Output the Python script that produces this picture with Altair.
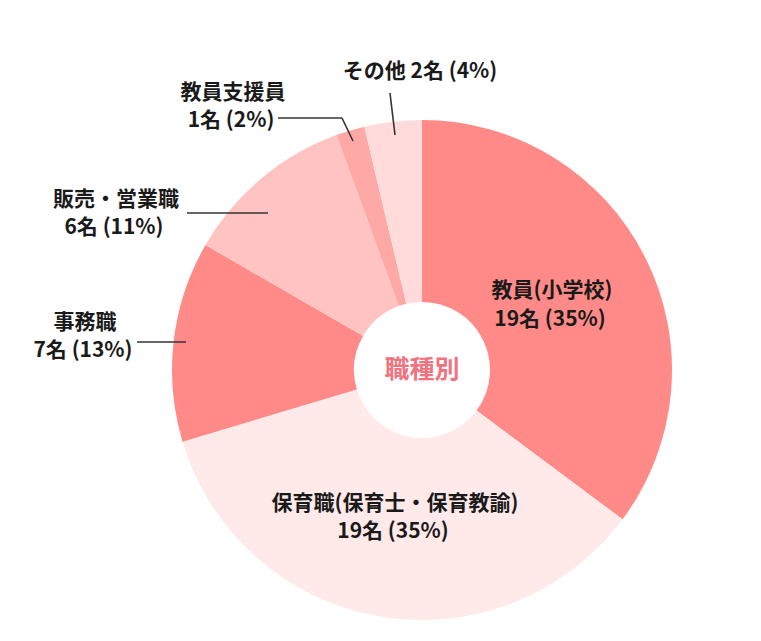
import altair as alt
import pandas as pd

categories = ["教員(小学校)", "保育職(保育士・保育教諭)", "事務職", "販売・営業職", "教員支援員", "その他"]
counts = [19, 19, 7, 6, 1, 2]
percents = [35, 35, 13, 11, 2, 4]
colors = ["#FF8A87", "#FFE9E9", "#FF8A87", "#FFC3C2", "#FFA9A7", "#FFDBDB"]

FONT = "Noto Sans CJK JP"
CX, CY = 414, 362

pie = pd.DataFrame({"cat": categories, "count": counts, "order": list(range(len(categories)))})

arcs = alt.Chart(pie).mark_arc(innerRadius=68, outerRadius=250).encode(
    theta=alt.Theta("count:Q", stack=True),
    order=alt.Order("order:Q"),
    color=alt.Color("cat:N", scale=alt.Scale(domain=categories, range=colors), legend=None),
    x=alt.value(CX), y=alt.value(CY),
)

# label text built from the data arrays
line2 = [f"{c}名 ({p}%)" for c, p in zip(counts, percents)]
lab_rows = []
pos1 = [(544, 283), (387, 496), (77, 315), (108, 192), (225, 85)]
pos2 = [(542, 312), (385, 524), (75, 343), (106, 220), (223, 113)]
for i in range(5):
    lab_rows.append({"t": categories[i], "x": pos1[i][0], "y": pos1[i][1]})
    lab_rows.append({"t": line2[i], "x": pos2[i][0], "y": pos2[i][1]})
lab_rows.append({"t": f"{categories[5]} {line2[5]}", "x": 412, "y": 64})
labels = pd.DataFrame(lab_rows)

text = alt.Chart(labels).mark_text(
    font=FONT, fontSize=21, fontWeight="bold", color="#1a1a1a", baseline="middle", align="center"
).encode(
    x=alt.X("x:Q", scale=None), y=alt.Y("y:Q", scale=None), text="t:N"
)

segs = pd.DataFrame({
    "x": [382, 270, 334, 179, 129],
    "y": [85, 110, 110, 205, 334],
    "x2": [387, 334, 345, 260, 178],
    "y2": [127, 110, 133, 205, 334],
})
lines = alt.Chart(segs).mark_rule(color="#333333", strokeWidth=1.6).encode(
    x=alt.X("x:Q", scale=None), y=alt.Y("y:Q", scale=None),
    x2="x2:Q", y2="y2:Q",
)

center = alt.Chart(pd.DataFrame({"t": ["職種別"]})).mark_text(
    font=FONT, fontSize=25, fontWeight="bold", color="#F0737F", baseline="middle", align="center"
).encode(x=alt.value(CX), y=alt.value(CY), text="t:N")

chart = alt.layer(arcs, lines, text, center).properties(
    width=745, height=625, padding=0, autosize="none"
).configure_view(stroke=None)

chart.save("out.html", embed_options={"renderer": "svg", "actions": False})
